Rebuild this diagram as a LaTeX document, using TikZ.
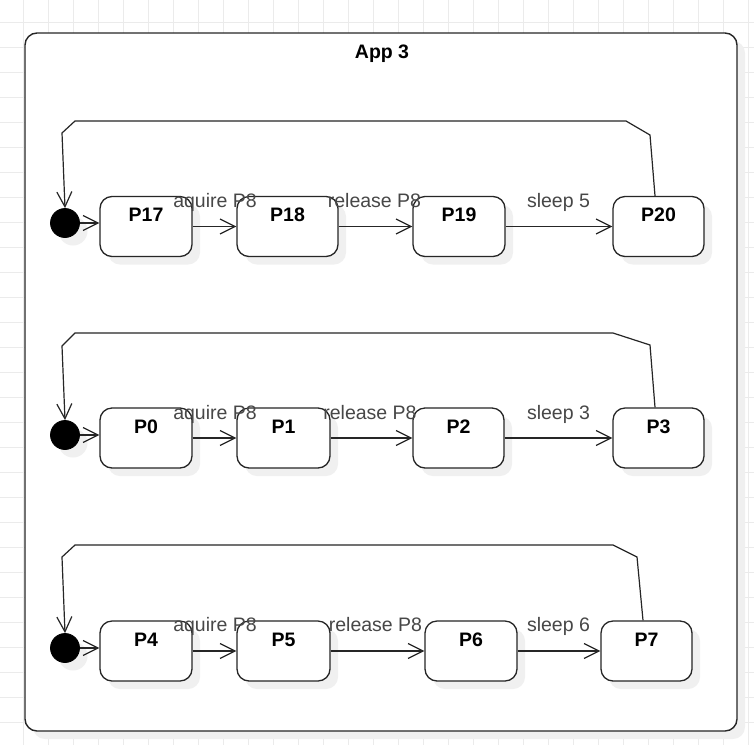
\documentclass[tikz,border=0pt]{standalone}
\usepackage{fontspec}
\setmainfont{Liberation Sans}
\usetikzlibrary{arrows.meta,shadows}
\begin{document}
\begin{tikzpicture}[x=1pt,y=-1pt,
  line col/.style={draw=black!85},
  shd/.style={drop shadow={shadow xshift=8pt,shadow yshift=-8pt,fill=black!6,opacity=1}},
  state/.style={rectangle,rounded corners=12pt,draw=black!85,line width=1.3pt,fill=white,
    minimum height=60pt,inner sep=0pt,shd},
  init/.style={circle,fill=black,draw=black,line width=0.8pt,minimum size=29pt,inner sep=0pt,shd},
  tr/.style={draw=black!85,line width=1.2pt,-{Straight Barb[length=15pt,width=15pt,line width=1.2pt]}},
  loop/.style={draw=black!85,line width=1.2pt,-{Straight Barb[length=15pt,width=15pt,line width=1.2pt]}},
  elab/.style={font=\fontsize{19.5}{23}\selectfont,text=black!72,anchor=base,inner sep=0pt},
  nlab/.style={font=\fontsize{19.5}{23}\selectfont\bfseries,anchor=base,yshift=-26pt,inner sep=0pt},
]
\useasboundingbox (0,0) rectangle (754,745);
% background grid
\foreach \gx in {23,48,...,748} \draw[black!8,line width=0.9pt] (\gx,0) -- (\gx,745);
\foreach \gy in {22,47,...,722} \draw[black!8,line width=0.9pt] (0,\gy) -- (754,\gy);
% container
\path[draw=black!85,line width=1.4pt,fill=white,rounded corners=12pt,shd] (25,33) rectangle (737,731);
\node[font=\fontsize{19.5}{23}\selectfont\bfseries,anchor=base,inner sep=0pt] (title) at (382,58) {App 3};

% ---------- row 1
\node[init] (c1) at (65,223) {};
\node[state,minimum width=92pt,label={[nlab]north:P17}] (p17) at (146,226.5) {};
\node[state,minimum width=101pt,label={[nlab]north:P18}] (p18) at (287.5,226.5) {};
\node[state,minimum width=92pt,label={[nlab]north:P19}] (p19) at (459,226.5) {};
\node[state,minimum width=91pt,label={[nlab]north:P20}] (p20) at (658.5,226.5) {};
\draw[tr] (c1.east) -- (c1.east -| p17.west);
\draw[tr] (p17) -- (p18);
\draw[tr] (p18) -- (p19);
\draw[tr] (p19) -- (p20);
\coordinate (r1a) at (650,135);
\coordinate (r1b) at (626,121);
\coordinate (r1c) at (75,121);
\coordinate (r1d) at (62,133);
\draw[loop] ([xshift=-3.5pt]p20.north) -- (r1a) -- (r1b) -- (r1c) -- (r1d) -- (c1.north);
\node[elab] (l1a) at (215,207) {aquire P8};
\node[elab] (l1b) at (374.5,207) {release P8};
\node[elab] (l1c) at (558.5,207) {sleep 5};

% ---------- row 2
\node[init] (c2) at (65,435) {};
\node[state,minimum width=92pt,label={[nlab]north:P0}] (p0) at (146,438) {};
\node[state,minimum width=93pt,label={[nlab]north:P1}] (p1) at (283.5,438) {};
\node[state,minimum width=91pt,label={[nlab]north:P2}] (p2) at (458.5,438) {};
\node[state,minimum width=91pt,label={[nlab]north:P3}] (p3) at (658.5,438) {};
\draw[tr] (c2.east) -- (c2.east -| p0.west);
\draw[tr] (p0) -- (p1);
\draw[tr] (p1) -- (p2);
\draw[tr] (p2) -- (p3);
\coordinate (r2a) at (650,345);
\coordinate (r2b) at (613,333);
\coordinate (r2c) at (75,333);
\coordinate (r2d) at (62,346);
\draw[loop] ([xshift=-3.5pt]p3.north) -- (r2a) -- (r2b) -- (r2c) -- (r2d) -- (c2.north);
\node[elab] (l2a) at (215,419) {aquire P8};
\node[elab] (l2b) at (370,419) {release P8};
\node[elab] (l2c) at (558.5,419) {sleep 3};

% ---------- row 3
\node[init] (c3) at (65,648) {};
\node[state,minimum width=92pt,label={[nlab]north:P4}] (p4) at (146,651) {};
\node[state,minimum width=93pt,label={[nlab]north:P5}] (p5) at (283.5,651) {};
\node[state,minimum width=92pt,label={[nlab]north:P6}] (p6) at (471,651) {};
\node[state,minimum width=91pt,label={[nlab]north:P7}] (p7) at (646.5,651) {};
\draw[tr] (c3.east) -- (c3.east -| p4.west);
\draw[tr] (p4) -- (p5);
\draw[tr] (p5) -- (p6);
\draw[tr] (p6) -- (p7);
\coordinate (r3a) at (637,557);
\coordinate (r3b) at (613,545);
\coordinate (r3c) at (75,545);
\coordinate (r3d) at (62,557);
\draw[loop] ([xshift=-3.5pt]p7.north) -- (r3a) -- (r3b) -- (r3c) -- (r3d) -- (c3.north);
\node[elab] (l3a) at (215,631) {aquire P8};
\node[elab] (l3b) at (375.5,631) {release P8};
\node[elab] (l3c) at (558.5,631) {sleep 6};
\end{tikzpicture}
\end{document}
